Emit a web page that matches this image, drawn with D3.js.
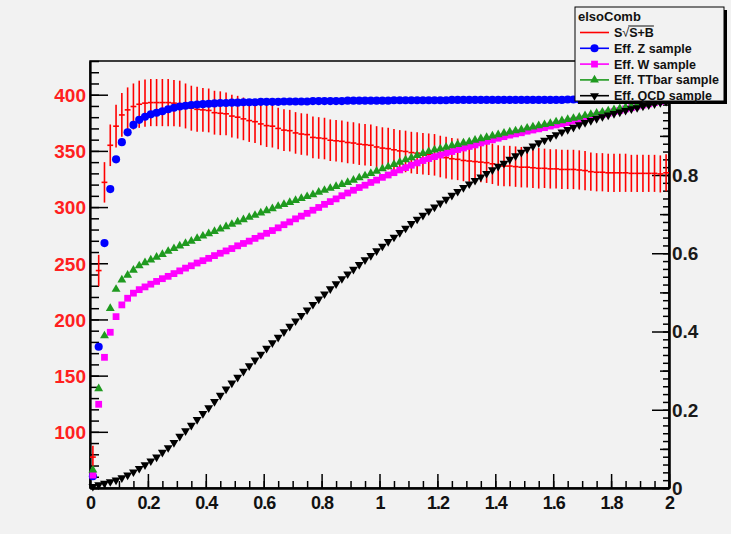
<!DOCTYPE html>
<html>
<head>
<meta charset="utf-8">
<script src="https://cdn.jsdelivr.net/npm/d3@7"></script>
<style>
  html, body { margin: 0; padding: 0; background: #f2f2f2; }
  svg { display: block; }
  text { font-family: "Liberation Sans", Arial, sans-serif; font-weight: bold; }
</style>
</head>
<body>
<svg id="chart" width="731" height="534"></svg>
<script>
// Histogram binning: 100 bins of width 0.02 on [0, 2]
const binLow = 0, binWidth = 0.02, nBins = 100;

// S/sqrt(S+B) per bin (left axis) and its error
const signif = [
  77.5, 243.5, 322, 355, 372, 382, 386.5, 389.5, 391.5, 392.5,
  393, 393, 393, 393, 392.5, 392, 390, 388, 387, 386.5,
  386, 384, 383.5, 383, 381, 380, 378.5, 377, 376, 374,
  372.5, 372, 370, 368.5, 368, 366, 365, 364.5, 362, 361.5,
  361, 359.5, 359, 358.5, 357.5, 357, 356, 355.5, 355, 353.5,
  352.5, 352, 351, 350, 349.5, 348.5, 348, 347.5, 347, 346.5,
  345, 344, 343, 342.5, 341.5, 341, 340.5, 340, 339.5, 338.5,
  337, 336.5, 336.5, 336, 335.5, 335.5, 335, 334.5, 334.5, 334,
  334, 333.5, 333.5, 333.5, 333, 332.5, 331.5, 331, 331, 330.5,
  330.5, 330.5, 330.5, 330, 330, 330, 330, 330, 329.5, 330.5
];
const signifErr = [
  10, 14, 18, 18.5, 19, 19.5, 20, 20.5, 21, 21,
  21, 21, 21, 21, 20.5, 20.5, 20, 20, 20, 19.5,
  19.5, 19.5, 19.5, 19, 19, 19, 19, 19, 19, 19,
  19, 19, 18.5, 18.5, 18.5, 18.5, 18.5, 18.5, 18.5, 18.5,
  18.5, 18.5, 18.5, 18.5, 18.5, 18.5, 18.5, 18.5, 18.5, 18.5,
  18.5, 18.5, 18.5, 18.5, 18.5, 18.5, 18.5, 18.5, 18.5, 18.5,
  18.5, 18.5, 18.5, 18.5, 18.5, 18.5, 18, 18, 18, 18,
  18, 18, 18, 18, 18, 18, 18, 18, 17.5, 17.5,
  17.5, 17.5, 17.5, 17.5, 17.5, 17.5, 17, 17, 17, 17,
  17, 17, 17, 16.5, 16.5, 16.5, 16.5, 16.5, 16.5, 16.5
];

// Efficiencies (right axis)
const effZ = [
  0.030, 0.361, 0.626, 0.764, 0.840, 0.884, 0.909, 0.928, 0.941, 0.949,
  0.955, 0.959, 0.963, 0.968, 0.972, 0.975, 0.977, 0.979, 0.980, 0.981,
  0.982, 0.983, 0.984, 0.984, 0.985, 0.985, 0.986, 0.986, 0.986, 0.987,
  0.987, 0.987, 0.987, 0.988, 0.988, 0.988, 0.988, 0.988, 0.989, 0.989,
  0.989, 0.989, 0.989, 0.989, 0.990, 0.990, 0.990, 0.990, 0.990, 0.990,
  0.990, 0.990, 0.991, 0.991, 0.991, 0.991, 0.991, 0.991, 0.991, 0.991,
  0.991, 0.991, 0.992, 0.992, 0.992, 0.992, 0.992, 0.992, 0.992, 0.992,
  0.992, 0.992, 0.992, 0.992, 0.992, 0.992, 0.992, 0.992, 0.992, 0.992,
  0.992, 0.992, 0.993, 0.993, 0.993, 0.993, 0.993, 0.993, 0.993, 0.993,
  0.993, 0.993, 0.993, 0.993, 0.993, 0.993, 0.993, 0.993, 0.993, 0.993
];
const effW = [
  0.033, 0.214, 0.334, 0.398, 0.438, 0.468, 0.485, 0.498, 0.507, 0.514,
  0.521, 0.528, 0.535, 0.541, 0.548, 0.555, 0.562, 0.568, 0.575, 0.581,
  0.587, 0.594, 0.600, 0.606, 0.612, 0.619, 0.625, 0.631, 0.638, 0.644,
  0.651, 0.658, 0.665, 0.673, 0.680, 0.688, 0.695, 0.702, 0.710, 0.717,
  0.725, 0.732, 0.739, 0.747, 0.754, 0.761, 0.768, 0.774, 0.781, 0.787,
  0.794, 0.800, 0.806, 0.813, 0.819, 0.825, 0.831, 0.837, 0.842, 0.847,
  0.851, 0.856, 0.860, 0.865, 0.869, 0.873, 0.877, 0.882, 0.886, 0.890,
  0.894, 0.898, 0.902, 0.905, 0.908, 0.912, 0.915, 0.918, 0.921, 0.925,
  0.928, 0.931, 0.934, 0.938, 0.941, 0.944, 0.947, 0.951, 0.955, 0.958,
  0.962, 0.965, 0.969, 0.972, 0.976, 0.979, 0.982, 0.985, 0.988, 0.991
];
const effTT = [
  0.046, 0.254, 0.389, 0.459, 0.508, 0.532, 0.544, 0.557, 0.568, 0.576,
  0.583, 0.590, 0.597, 0.605, 0.612, 0.619, 0.625, 0.631, 0.638, 0.644,
  0.650, 0.656, 0.662, 0.668, 0.674, 0.680, 0.686, 0.692, 0.697, 0.703,
  0.709, 0.714, 0.720, 0.725, 0.730, 0.735, 0.740, 0.745, 0.750, 0.756,
  0.761, 0.766, 0.771, 0.776, 0.781, 0.787, 0.793, 0.798, 0.804, 0.810,
  0.816, 0.821, 0.827, 0.833, 0.839, 0.844, 0.850, 0.855, 0.860, 0.864,
  0.867, 0.871, 0.875, 0.878, 0.882, 0.885, 0.889, 0.893, 0.896, 0.900,
  0.903, 0.907, 0.910, 0.913, 0.916, 0.920, 0.923, 0.926, 0.929, 0.932,
  0.936, 0.939, 0.942, 0.945, 0.948, 0.952, 0.955, 0.958, 0.961, 0.964,
  0.967, 0.970, 0.973, 0.976, 0.979, 0.981, 0.984, 0.986, 0.989, 0.991
];
const effQCD = [
  0.004, 0.008, 0.012, 0.016, 0.020, 0.026, 0.033, 0.041, 0.050, 0.059,
  0.069, 0.079, 0.091, 0.103, 0.116, 0.132, 0.146, 0.160, 0.175, 0.190,
  0.205, 0.221, 0.237, 0.253, 0.268, 0.283, 0.298, 0.312, 0.327, 0.342,
  0.357, 0.371, 0.385, 0.399, 0.413, 0.427, 0.441, 0.455, 0.469, 0.483,
  0.496, 0.509, 0.522, 0.535, 0.547, 0.559, 0.571, 0.583, 0.594, 0.606,
  0.618, 0.630, 0.641, 0.653, 0.664, 0.676, 0.687, 0.697, 0.708, 0.718,
  0.728, 0.738, 0.748, 0.758, 0.768, 0.777, 0.786, 0.795, 0.804, 0.813,
  0.822, 0.830, 0.840, 0.849, 0.858, 0.866, 0.874, 0.882, 0.889, 0.896,
  0.903, 0.910, 0.916, 0.922, 0.928, 0.934, 0.939, 0.944, 0.949, 0.953,
  0.957, 0.961, 0.965, 0.969, 0.972, 0.976, 0.979, 0.982, 0.985, 0.988
];

// Axis ticks and labels
const xTickLabels = [0, 0.2, 0.4, 0.6, 0.8, 1, 1.2, 1.4, 1.6, 1.8, 2];
const leftTickLabels = [100, 150, 200, 250, 300, 350, 400];
const rightMajorTicks = [0, 0.2, 0.4, 0.6, 0.8, 1];
const rightTickLabels = [0, 0.2, 0.4, 0.6, 0.8];

const legendTitle = "elsoComb";
const effSeries = [
  { name: "Eff. Z sample",     values: effZ,   color: "#0000ff", symbol: "circle" },
  { name: "Eff. W sample",     values: effW,   color: "#ff00ff", symbol: "square" },
  { name: "Eff. TTbar sample", values: effTT,  color: "#1f9a1f", symbol: "triUp" },
  { name: "Eff. QCD sample",   values: effQCD, color: "#000000", symbol: "triDown" }
];

const W = 731, H = 534;
const frame = { left: 90, right: 669, top: 61, bottom: 488 };

const svg = d3.select("#chart");
svg.append("rect").attr("width", W).attr("height", H).attr("fill", "#f2f2f2");

const x = d3.scaleLinear().domain([0, 2]).range([frame.left, frame.right]);
const yL = d3.scaleLinear().domain([50, 430]).range([frame.bottom, frame.top]);
const yR = d3.scaleLinear().domain([0, 1.0914]).range([frame.bottom, frame.top]);

const centers = d3.range(nBins).map(i => binLow + binWidth * (i + 0.5));
const fmt = d => String(+(+d).toFixed(2));

// ---- frame
svg.append("rect")
  .attr("x", frame.left).attr("y", frame.top)
  .attr("width", frame.right - frame.left).attr("height", frame.bottom - frame.top)
  .attr("fill", "none").attr("stroke", "#000").attr("stroke-width", 1.5);

// ---- bottom axis
const gx = svg.append("g").attr("transform", `translate(0,${frame.bottom})`);
gx.append("g").call(d3.axisBottom(x).tickValues(d3.range(0, 2.0001, 0.05)).tickSize(-7).tickFormat("").tickSizeOuter(0));
gx.append("g").call(d3.axisBottom(x).tickValues(xTickLabels).tickSize(-14).tickPadding(8).tickFormat(fmt).tickSizeOuter(0))
  .selectAll("text").attr("font-size", 18).attr("fill", "#111").attr("letter-spacing", "-1px");

// ---- left axis (red labels)
const gl = svg.append("g").attr("transform", `translate(${frame.left},0)`);
gl.append("g").call(d3.axisLeft(yL).tickValues(d3.range(50, 431, 10)).tickSize(-9).tickFormat("").tickSizeOuter(0));
gl.append("g").call(d3.axisLeft(yL).tickValues(leftTickLabels).tickSize(-18).tickPadding(4).tickFormat(fmt).tickSizeOuter(0))
  .selectAll("text").attr("font-size", 19).attr("fill", "#ff2020").attr("dy", "0.36em");

// ---- right axis
const gr = svg.append("g").attr("transform", `translate(${frame.right},0)`);
gr.append("g").call(d3.axisRight(yR).tickValues(d3.range(0, 1.0901, 0.02)).tickSize(-6).tickFormat("").tickSizeOuter(0));
gr.append("g").call(d3.axisRight(yR).tickValues(d3.range(0.1, 1.0901, 0.2)).tickSize(-9).tickFormat("").tickSizeOuter(0));
gr.append("g").call(d3.axisRight(yR).tickValues(rightMajorTicks).tickSize(-17).tickFormat("").tickSizeOuter(0));
gr.append("g").call(d3.axisRight(yR).tickValues(rightTickLabels).tickSize(0).tickPadding(3).tickFormat(fmt).tickSizeOuter(0))
  .call(g => g.select(".domain").remove())
  .selectAll("text").attr("font-size", 19).attr("fill", "#1a1a1a").attr("dy", "0.34em");

svg.selectAll(".domain").attr("stroke-width", 1.8);
svg.selectAll(".tick line").attr("stroke-width", 1.5);

// ---- S/sqrt(S+B) histogram with errors
const plot = svg.append("g");
const red = "#ff0000";
const hist = plot.append("g").attr("stroke", red).attr("stroke-width", 1.6).attr("fill", "none");
hist.selectAll("line.h").data(centers).join("line").attr("class", "h")
  .attr("x1", (c) => x(c - binWidth / 2)).attr("x2", (c) => x(c + binWidth / 2))
  .attr("y1", (c, i) => yL(signif[i])).attr("y2", (c, i) => yL(signif[i]));
hist.selectAll("line.v").data(centers).join("line").attr("class", "v")
  .attr("x1", c => x(c)).attr("x2", c => x(c))
  .attr("y1", (c, i) => yL(signif[i] - signifErr[i])).attr("y2", (c, i) => yL(signif[i] + signifErr[i]));

// ---- marker shapes
function markerPath(kind) {
  if (kind === "circle") return d3.symbol(d3.symbolCircle, 52)();
  if (kind === "square") return d3.symbol(d3.symbolSquare, 46)();
  return d3.symbol(d3.symbolTriangle, 34)();
}
function markerTransform(kind, px, py) {
  return kind === "triDown" ? `translate(${px},${py}) rotate(180)` : `translate(${px},${py})`;
}

effSeries.forEach(s => {
  plot.append("g").selectAll("path").data(centers).join("path")
    .attr("d", markerPath(s.symbol))
    .attr("transform", (c, i) => markerTransform(s.symbol, x(c), yR(s.values[i])))
    .attr("fill", s.color);
});

// ---- legend
const lg = svg.append("g");
const lgX = 575, lgY = 7, lgW = 149, lgH = 94;
lg.append("rect").attr("x", lgX + 3).attr("y", lgY + 3).attr("width", lgW).attr("height", lgH).attr("fill", "#000");
lg.append("rect").attr("x", lgX).attr("y", lgY).attr("width", lgW).attr("height", lgH)
  .attr("fill", "#f2f2f2").attr("stroke", "#000").attr("stroke-width", 1);
lg.append("text").attr("x", lgX + 3).attr("y", lgY + 14).attr("font-size", 13).attr("fill", "#111").text(legendTitle);

const rowY = i => lgY + 25.5 + i * 15.8;
const sx0 = 580, sx1 = 609, tx = 614;

// row 0: significance
lg.append("line").attr("x1", sx0).attr("x2", sx1).attr("y1", rowY(0)).attr("y2", rowY(0)).attr("stroke", red).attr("stroke-width", 1.6);
const sigText = lg.append("text").attr("x", tx).attr("y", rowY(0) + 4.5).attr("font-size", 12.5).attr("fill", "#111");
sigText.append("tspan").text("S");
sigText.append("tspan").attr("font-weight", "normal").text("√");
sigText.append("tspan").text("S+B");
{
  const node = sigText.node();
  const s = node.getStartPositionOfChar(2).x;
  const e = node.getEndPositionOfChar(4).x;
  const yTop = rowY(0) + 4.5 - 11;
  lg.append("line").attr("x1", s - 1).attr("x2", e).attr("y1", yTop).attr("y2", yTop).attr("stroke", "#111").attr("stroke-width", 1);
}

effSeries.forEach((s, k) => {
  const yy = rowY(k + 1);
  lg.append("line").attr("x1", sx0).attr("x2", sx1).attr("y1", yy).attr("y2", yy).attr("stroke", s.color).attr("stroke-width", 1.6);
  lg.append("path").attr("d", markerPath(s.symbol)).attr("transform", markerTransform(s.symbol, (sx0 + sx1) / 2, yy)).attr("fill", s.color);
  lg.append("text").attr("x", tx).attr("y", yy + 4.5).attr("font-size", 12.5).attr("fill", "#111").text(s.name);
});
</script>
</body>
</html>
